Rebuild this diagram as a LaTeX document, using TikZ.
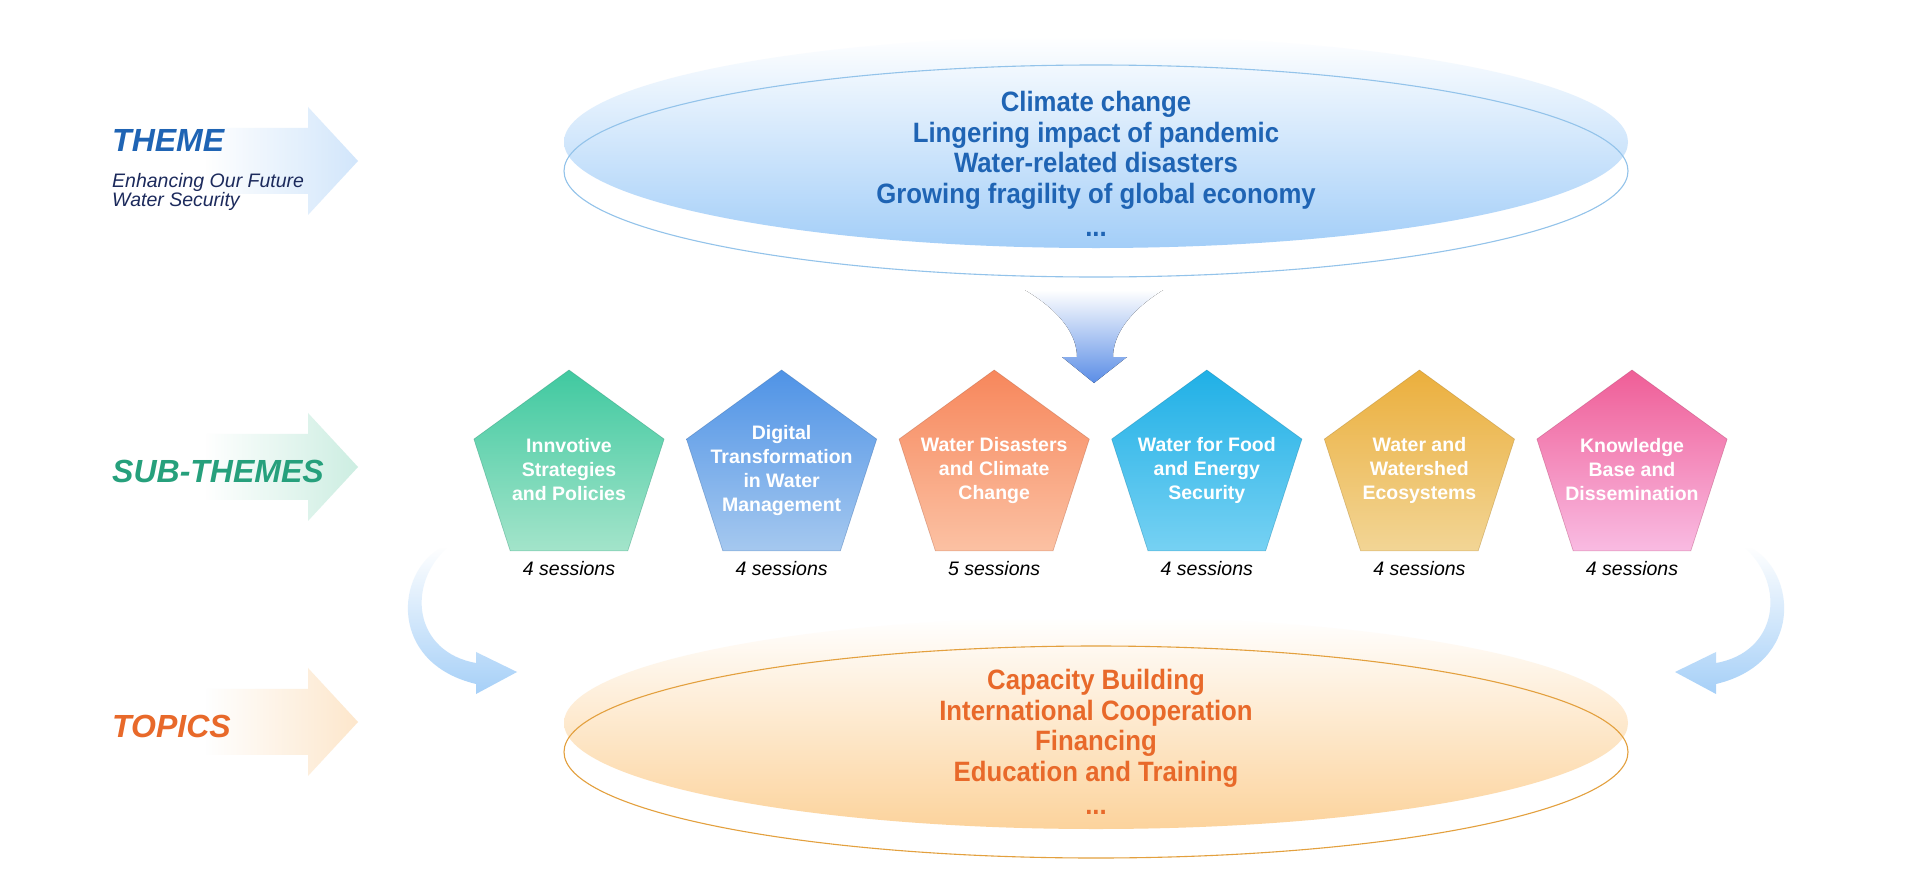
\documentclass[tikz,border=0pt]{standalone}
\usepackage{fontspec}
\setmainfont{Liberation Sans}
\newfontfamily\condfont{Liberation Sans}[FakeStretch=0.92]
\usetikzlibrary{shapes.geometric}
\usetikzlibrary{positioning}
\usetikzlibrary{fadings}
\definecolor{themeblue}{HTML}{1F64B4}
\definecolor{themenavy}{HTML}{1C2A5C}
\definecolor{subgreen}{HTML}{26A07C}
\definecolor{topicorange}{HTML}{E8692A}
\definecolor{arrowblue}{HTML}{D2E6FB}
\definecolor{arrowgreen}{HTML}{CDEEE2}
\definecolor{arroworange}{HTML}{FDE7CC}
\definecolor{bendblue}{HTML}{A6D0F8}
\definecolor{cloudblue}{HTML}{A3CEF8}
\definecolor{cloudmid}{HTML}{C7E2FB}
\definecolor{ringblue}{HTML}{93C3EA}
\definecolor{funnelmid}{HTML}{9CD2F2}
\definecolor{funnelend}{HTML}{5A8DE6}
\definecolor{cloudorange}{HTML}{FCD39C}
\definecolor{cloudpeach}{HTML}{FDE5C4}
\definecolor{ringorange}{HTML}{E3A03E}
\definecolor{greentop}{HTML}{40C9A0}
\definecolor{greenbot}{HTML}{A3E4CA}
\definecolor{bluetop}{HTML}{4F93E6}
\definecolor{bluebot}{HTML}{A5C8EF}
\definecolor{salmontop}{HTML}{F7875C}
\definecolor{salmonbot}{HTML}{FBC1A3}
\definecolor{cyantop}{HTML}{20B0E6}
\definecolor{cyanbot}{HTML}{76D1F3}
\definecolor{goldtop}{HTML}{EBAF3D}
\definecolor{goldbot}{HTML}{F2D595}
\definecolor{pinktop}{HTML}{EF5E97}
\definecolor{pinkbot}{HTML}{F9BBE2}
\tikzfading[name=fadeleft,left color=transparent!100,right color=transparent!0]
\tikzfading[name=fadetop,top color=transparent!100,bottom color=transparent!0]
% faded arrow beside a row label
\newcommand\sidearrow[2]{%
  \fill[#2,path fading=fadeleft] (205,#1-33) -- (308,#1-33) -- (308,#1-54)
    -- (358,#1) -- (308,#1+54) -- (308,#1+33) -- (205,#1+33) -- cycle;
}
% bent arrow from the sub-themes down to the topics
\newcommand\bendarrow[1]{%
  \begin{scope}[#1]
    \fill[bendblue,path fading=fadetop] (442,547)
      .. controls (395,572) and (388,663) .. (476,684) -- (476,694) -- (517,672)
      -- (476,652) -- (476,663) .. controls (414,652) and (406,585) .. (447,548) -- cycle;
  \end{scope}
}
% one sub-theme: name, x, colour, text, sessions
\newcommand\subtheme[5]{%
  \node[pentagon,top color=#3top,bottom color=#3bot,draw=#3top!75!black] (#1) at (#2,470) {};
  \node[pentext] (#1t) at (#1) {#4};
  \node[sessions,below=10pt of #1] (#1n) {#5 sessions};
}

\begin{document}
\begin{tikzpicture}[x=1pt,y=-1pt,
rowlabel/.style={anchor=base west,inner sep=0,
  font=\bfseries\itshape\fontsize{32}{36}\selectfont},
pentagon/.style={regular polygon,regular polygon sides=5,
  minimum size=200pt,inner sep=0,draw opacity=0.45,line width=0.6pt},
pentext/.style={align=center,text=white,inner sep=0,
  font=\bfseries\fontsize{19.5}{24}\selectfont},
sessions/.style={inner sep=0,font=\itshape\fontsize{19.5}{22}\selectfont},
cloud/.style={ellipse,minimum width=1064pt,minimum height=212pt,inner sep=0},
cloudtext/.style={align=center,inner sep=0,
  font=\condfont\bfseries\fontsize{28}{30.5}\selectfont}
]
\useasboundingbox[fill=white] (0,0) rectangle (1920,870);

% left column
\sidearrow{161}{arrowblue}
\sidearrow{467}{arrowgreen}
\sidearrow{722}{arroworange}
\node[rowlabel,text=themeblue] (theme) at (112,151) {THEME};
\node[anchor=north west,inner sep=0,align=left,text=themenavy,
  font=\itshape\fontsize{19.5}{19}\selectfont] (themesub) at (112,173)
  {Enhancing Our Future\\Water Security};
\node[rowlabel,text=subgreen] (subthemes) at (112,482) {SUB-THEMES};
\node[rowlabel,text=topicorange] (topics) at (112,737) {TOPICS};

% theme cloud
\node[cloud,top color=white,middle color=cloudmid,bottom color=cloudblue] (themefill) at (1096,142) {};
\node[cloud,draw=ringblue,line width=1.1pt] (themering) at (1096,171) {};
\node[cloudtext,text=themeblue] (issues) at (1096,164)
  {Climate change\\Lingering impact of pandemic\\
   Water-related disasters\\Growing fragility of global economy\\[2.5pt]
   ...};
\fill[top color=white,middle color=funnelmid,bottom color=funnelend]
  (1025,290) -- (1163,290) .. controls (1128,312) and (1113,336) .. (1113,357)
  -- (1127,357) -- (1094,383) -- (1062,357) -- (1077,357)
  .. controls (1077,336) and (1062,312) .. (1025,290) -- cycle;

% sub-themes
\subtheme{s1}{569}{green}{Innvotive\\Strategies\\and Policies}{4}
\subtheme{s2}{781.6}{blue}{Digital\\Transformation\\in Water\\Management}{4}
\subtheme{s3}{994.2}{salmon}{Water Disasters\\and Climate\\Change}{5}
\subtheme{s4}{1206.8}{cyan}{Water for Food\\and Energy\\Security}{4}
\subtheme{s5}{1419.4}{gold}{Water and\\Watershed\\Ecosystems}{4}
\subtheme{s6}{1632}{pink}{Knowledge\\Base and\\Dissemination}{4}

% bent arrows
\bendarrow{}
\bendarrow{xshift=2192pt,xscale=-1}

% topics cloud
\node[cloud,top color=white,middle color=cloudpeach,bottom color=cloudorange] (topicfill) at (1096,723) {};
\node[cloud,draw=ringorange,line width=1.1pt] (topicring) at (1096,752) {};
\node[cloudtext,text=topicorange] (topiclist) at (1096,742)
  {Capacity Building\\International Cooperation\\
   Financing\\Education and Training\\[2.5pt]
   ...};
\end{tikzpicture}
\end{document}
